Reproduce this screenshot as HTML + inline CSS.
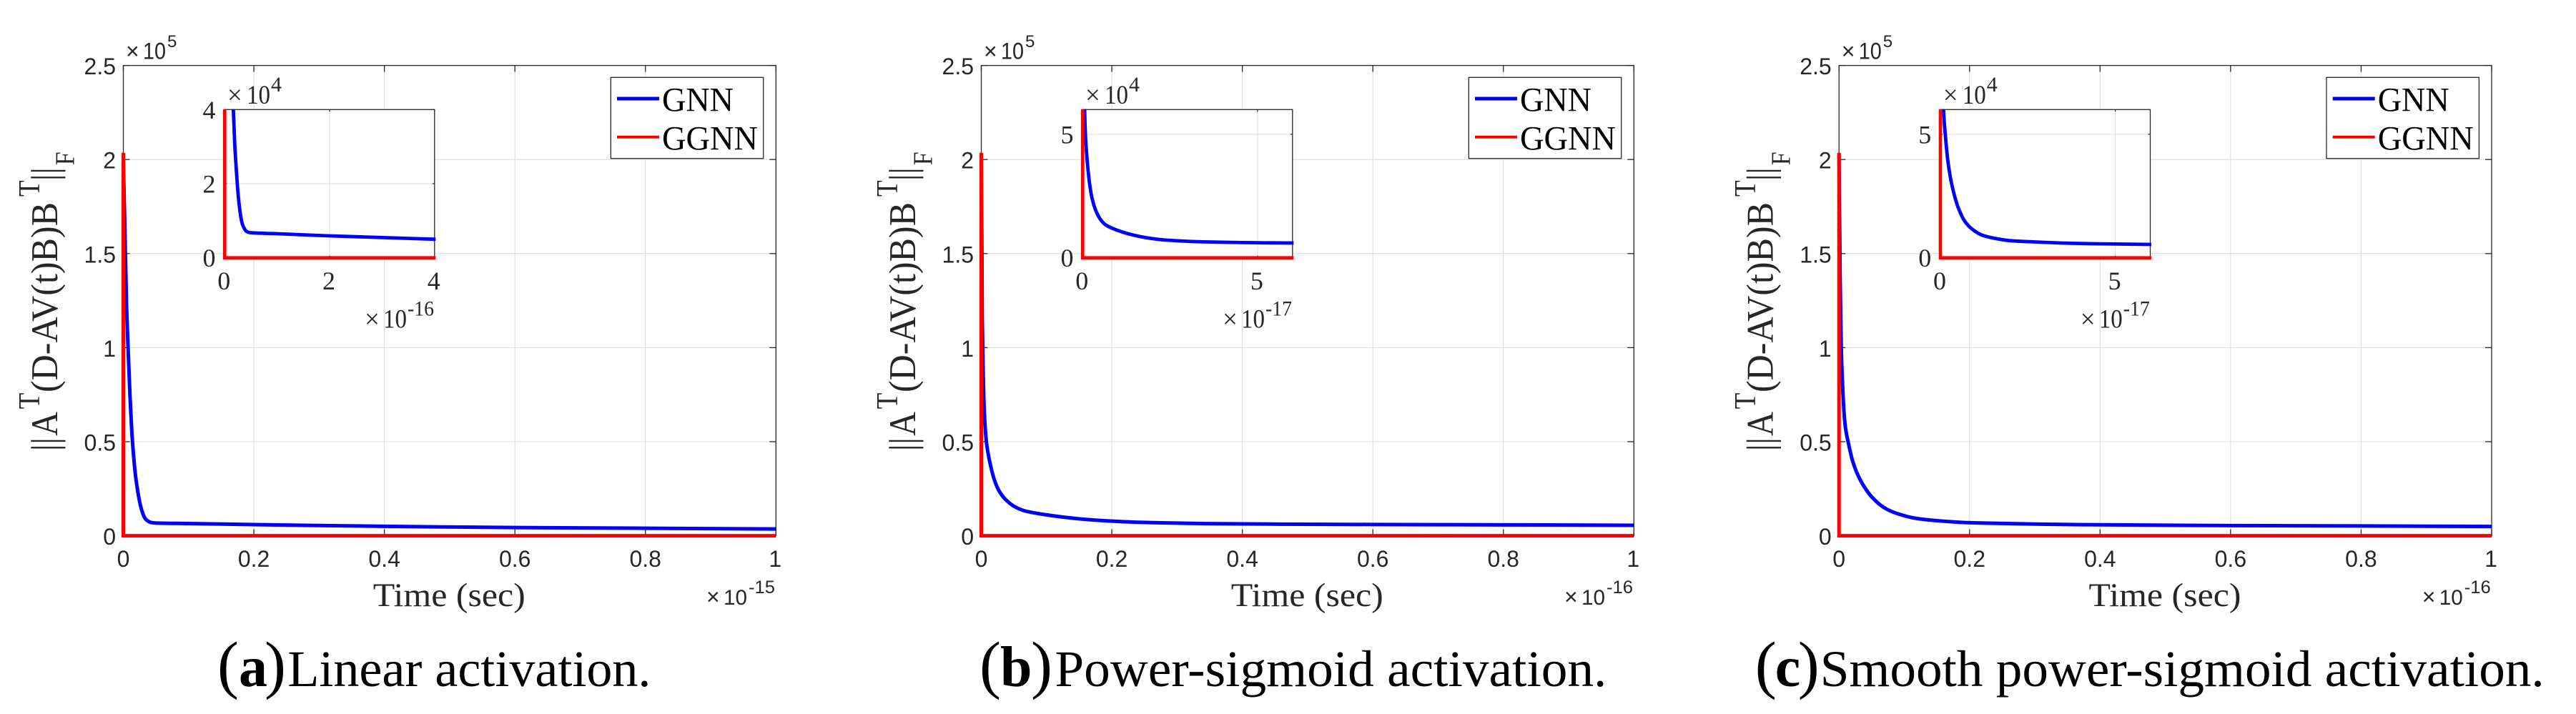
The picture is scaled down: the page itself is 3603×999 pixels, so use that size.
<!DOCTYPE html>
<html>
<head>
<meta charset="utf-8">
<title>GNN vs GGNN residual convergence</title>
<style>
html,body{margin:0;padding:0;background:#fff;}
svg{display:block;}
.sans{font-family:"Liberation Sans",sans-serif;fill:#262626;}
.serif{font-family:"Liberation Serif",serif;fill:#262626;}
.black{font-family:"Liberation Serif",serif;fill:#000;}
</style>
</head>
<body>
<svg xmlns="http://www.w3.org/2000/svg" width="3603" height="999" viewBox="0 0 3603 999">
<rect x="0" y="0" width="3603" height="999" fill="#fff"/>

<g id="panel-a" transform="translate(0,0)">
  <g id="main-a"></g>
  <g>
    <text class="sans" x="176" y="82.7" font-size="32">×</text>
    <text class="sans" x="200" y="82.7" font-size="32" textLength="32" lengthAdjust="spacingAndGlyphs">10</text>
    <text class="sans" x="234" y="66" font-size="24">5</text>
  </g>
  <g>
    <text class="sans" x="988" y="846" font-size="32">×</text>
    <text class="sans" x="1012" y="846" font-size="30" textLength="33" lengthAdjust="spacingAndGlyphs">10</text>
    <text class="sans" x="1047" y="830" font-size="25" textLength="37" lengthAdjust="spacingAndGlyphs">-15</text>
  </g>
  <text class="serif" x="521.8" y="848" font-size="47" textLength="213" lengthAdjust="spacingAndGlyphs">Time (sec)</text>
  <g transform="translate(80,628) rotate(-90) scale(1,1.13)">
    <text class="serif" x="-3" y="0" font-size="47">||</text>
    <text class="serif" x="18" y="0" font-size="47">A</text>
    <text class="serif" x="55.7" y="-22" font-size="37">T</text>
    <text class="serif" x="79" y="0" font-size="47" textLength="266" lengthAdjust="spacingAndGlyphs">(D-AV(t)B)B</text>
    <text class="serif" x="353" y="-22" font-size="37">T</text>
    <text class="serif" x="375" y="0" font-size="47">||</text>
    <text class="serif" x="396.7" y="21" font-size="34">F</text>
  </g>
  <g>
    <rect x="854.3" y="108.3" width="213.4" height="113.4" fill="#fff" stroke="#262626" stroke-width="1.3"/>
    <line x1="863" x2="922" y1="138" y2="138" stroke="#0000ff" stroke-width="5"/>
    <text class="black" x="926" y="155.7" font-size="48" textLength="100" lengthAdjust="spacingAndGlyphs">GNN</text>
    <line x1="863" x2="922" y1="191.7" y2="191.7" stroke="#ff0000" stroke-width="4"/>
    <text class="black" x="926" y="209.3" font-size="48" textLength="134" lengthAdjust="spacingAndGlyphs">GGNN</text>
  </g>
  <g id="inset-a"></g>
  <g>
    <text class="serif" x="318" y="145" font-size="37">×</text>
    <text class="serif" x="345" y="145" font-size="37" textLength="33" lengthAdjust="spacingAndGlyphs">10</text>
    <text class="serif" x="379" y="128" font-size="30">4</text>
  </g>
  <g>
    <text class="serif" x="510" y="458.3" font-size="37">×</text>
    <text class="serif" x="536" y="458.3" font-size="37" textLength="33" lengthAdjust="spacingAndGlyphs">10</text>
    <text class="serif" x="570" y="441.7" font-size="30" textLength="37" lengthAdjust="spacingAndGlyphs">-16</text>
  </g>
  <g>
    <text class="black" x="304" y="960" font-size="90">(</text>
    <text class="black" x="334" y="960" font-size="80" font-weight="bold">a</text>
    <text class="black" x="370" y="960" font-size="90">)</text>
    <text class="black" x="402.4" y="960" font-size="72" textLength="508" lengthAdjust="spacingAndGlyphs">Linear activation.</text>
  </g>
</g>

<g id="panel-b" transform="translate(1200,0)">
  <g id="main-b"></g>
  <g>
    <text class="sans" x="176" y="82.7" font-size="32">×</text>
    <text class="sans" x="200" y="82.7" font-size="32" textLength="32" lengthAdjust="spacingAndGlyphs">10</text>
    <text class="sans" x="234" y="66" font-size="24">5</text>
  </g>
  <g>
    <text class="sans" x="988" y="846" font-size="32">×</text>
    <text class="sans" x="1012" y="846" font-size="30" textLength="33" lengthAdjust="spacingAndGlyphs">10</text>
    <text class="sans" x="1047" y="830" font-size="25" textLength="37" lengthAdjust="spacingAndGlyphs">-16</text>
  </g>
  <text class="serif" x="521.8" y="848" font-size="47" textLength="213" lengthAdjust="spacingAndGlyphs">Time (sec)</text>
  <g transform="translate(80,628) rotate(-90) scale(1,1.13)">
    <text class="serif" x="-3" y="0" font-size="47">||</text>
    <text class="serif" x="18" y="0" font-size="47">A</text>
    <text class="serif" x="55.7" y="-22" font-size="37">T</text>
    <text class="serif" x="79" y="0" font-size="47" textLength="266" lengthAdjust="spacingAndGlyphs">(D-AV(t)B)B</text>
    <text class="serif" x="353" y="-22" font-size="37">T</text>
    <text class="serif" x="375" y="0" font-size="47">||</text>
    <text class="serif" x="396.7" y="21" font-size="34">F</text>
  </g>
  <g>
    <rect x="854.3" y="108.3" width="213.4" height="113.4" fill="#fff" stroke="#262626" stroke-width="1.3"/>
    <line x1="863" x2="922" y1="138" y2="138" stroke="#0000ff" stroke-width="5"/>
    <text class="black" x="926" y="155.7" font-size="48" textLength="100" lengthAdjust="spacingAndGlyphs">GNN</text>
    <line x1="863" x2="922" y1="191.7" y2="191.7" stroke="#ff0000" stroke-width="4"/>
    <text class="black" x="926" y="209.3" font-size="48" textLength="134" lengthAdjust="spacingAndGlyphs">GGNN</text>
  </g>
  <g id="inset-b"></g>
  <g>
    <text class="serif" x="318" y="145" font-size="37">×</text>
    <text class="serif" x="345" y="145" font-size="37" textLength="33" lengthAdjust="spacingAndGlyphs">10</text>
    <text class="serif" x="379" y="128" font-size="30">4</text>
  </g>
  <g>
    <text class="serif" x="510" y="458.3" font-size="37">×</text>
    <text class="serif" x="536" y="458.3" font-size="37" textLength="33" lengthAdjust="spacingAndGlyphs">10</text>
    <text class="serif" x="570" y="441.7" font-size="30" textLength="37" lengthAdjust="spacingAndGlyphs">-17</text>
  </g>
  <g>
    <text class="black" x="170" y="960" font-size="90">(</text>
    <text class="black" x="199" y="960" font-size="80" font-weight="bold">b</text>
    <text class="black" x="242" y="960" font-size="90">)</text>
    <text class="black" x="275.4" y="960" font-size="72" textLength="772" lengthAdjust="spacingAndGlyphs">Power-sigmoid activation.</text>
  </g>
</g>

<g id="panel-c" transform="translate(2399.7,0)">
  <g id="main-c"></g>
  <g>
    <text class="sans" x="176" y="82.7" font-size="32">×</text>
    <text class="sans" x="200" y="82.7" font-size="32" textLength="32" lengthAdjust="spacingAndGlyphs">10</text>
    <text class="sans" x="234" y="66" font-size="24">5</text>
  </g>
  <g>
    <text class="sans" x="988" y="846" font-size="32">×</text>
    <text class="sans" x="1012" y="846" font-size="30" textLength="33" lengthAdjust="spacingAndGlyphs">10</text>
    <text class="sans" x="1047" y="830" font-size="25" textLength="37" lengthAdjust="spacingAndGlyphs">-16</text>
  </g>
  <text class="serif" x="521.8" y="848" font-size="47" textLength="213" lengthAdjust="spacingAndGlyphs">Time (sec)</text>
  <g transform="translate(80,628) rotate(-90) scale(1,1.13)">
    <text class="serif" x="-3" y="0" font-size="47">||</text>
    <text class="serif" x="18" y="0" font-size="47">A</text>
    <text class="serif" x="55.7" y="-22" font-size="37">T</text>
    <text class="serif" x="79" y="0" font-size="47" textLength="266" lengthAdjust="spacingAndGlyphs">(D-AV(t)B)B</text>
    <text class="serif" x="353" y="-22" font-size="37">T</text>
    <text class="serif" x="375" y="0" font-size="47">||</text>
    <text class="serif" x="396.7" y="21" font-size="34">F</text>
  </g>
  <g>
    <rect x="854.3" y="108.3" width="213.4" height="113.4" fill="#fff" stroke="#262626" stroke-width="1.3"/>
    <line x1="863" x2="922" y1="138" y2="138" stroke="#0000ff" stroke-width="5"/>
    <text class="black" x="926" y="155.7" font-size="48" textLength="100" lengthAdjust="spacingAndGlyphs">GNN</text>
    <line x1="863" x2="922" y1="191.7" y2="191.7" stroke="#ff0000" stroke-width="4"/>
    <text class="black" x="926" y="209.3" font-size="48" textLength="134" lengthAdjust="spacingAndGlyphs">GGNN</text>
  </g>
  <g id="inset-c"></g>
  <g>
    <text class="serif" x="318" y="145" font-size="37">×</text>
    <text class="serif" x="345" y="145" font-size="37" textLength="33" lengthAdjust="spacingAndGlyphs">10</text>
    <text class="serif" x="379" y="128" font-size="30">4</text>
  </g>
  <g>
    <text class="serif" x="510" y="458.3" font-size="37">×</text>
    <text class="serif" x="536" y="458.3" font-size="37" textLength="33" lengthAdjust="spacingAndGlyphs">10</text>
    <text class="serif" x="570" y="441.7" font-size="30" textLength="37" lengthAdjust="spacingAndGlyphs">-17</text>
  </g>
  <g>
    <text class="black" x="55" y="960" font-size="90">(</text>
    <text class="black" x="83" y="960" font-size="80" font-weight="bold">c</text>
    <text class="black" x="115" y="960" font-size="90">)</text>
    <text class="black" x="146" y="960" font-size="72" textLength="1013" lengthAdjust="spacingAndGlyphs">Smooth power-sigmoid activation.</text>
  </g>
</g>
</svg>

<script>
// Main axis ticks (time in units of the printed exponent, residual in units of 1e5)
const mainXTicks = [0, 0.2, 0.4, 0.6, 0.8, 1];
const mainXTickLabels = ["0", "0.2", "0.4", "0.6", "0.8", "1"];
const mainYTicks = [0, 0.5, 1, 1.5, 2, 2.5];
const mainYTickLabels = ["0", "0.5", "1", "1.5", "2", "2.5"];

// Inset ticks for each panel (inset units are a tenth of the main units)
const insetXTicksA = [0, 2, 4];
const insetYTicksA = [0, 2, 4];
const insetXTicksB = [0, 5];
const insetYTicksB = [0, 5];
const insetXTicksC = [0, 5];
const insetYTicksC = [0, 5];
const insetLimitA = [4, 4];
const insetLimitB = [6, 6];
const insetLimitC = [6, 6];

// GNN series
const gnnTimeA = [0, 0.0006, 0.002, 0.0049, 0.0067, 0.0102, 0.0129, 0.0156, 0.019, 0.0215, 0.0239, 0.0263, 0.0287, 0.031, 0.0336, 0.037, 0.0409, 0.045, 0.0507, 0.1, 0.2, 0.4, 0.6, 0.8, 1];
const gnnValuesA = [2.03, 1.89, 1.695, 1.225, 1.05, 0.743, 0.56, 0.43, 0.31, 0.25, 0.2, 0.16, 0.13, 0.108, 0.091, 0.08, 0.072, 0.069, 0.0675, 0.065, 0.0592, 0.0502, 0.0435, 0.04, 0.036];
const gnnTimeB = [0, 0.0015, 0.003, 0.0045, 0.0065, 0.0087, 0.0139, 0.0197, 0.027, 0.0379, 0.0525, 0.067, 0.0962, 0.14, 0.1837, 0.242, 0.344, 0.4534, 0.6, 0.8, 1];
const gnnValuesB = [2.03, 1.156, 0.85, 0.67, 0.55, 0.475, 0.378, 0.301, 0.24, 0.19, 0.152, 0.132, 0.113, 0.0936, 0.081, 0.0714, 0.0646, 0.0617, 0.0598, 0.058, 0.0557];
const gnnTimeC = [0, 0.0016, 0.003, 0.0038, 0.006, 0.0082, 0.0105, 0.0139, 0.0206, 0.0286, 0.0378, 0.0505, 0.0688, 0.089, 0.118, 0.1545, 0.198, 0.264, 0.373, 0.6, 0.8, 1];
const gnnValuesC = [2.03, 1.4, 1.08, 0.95, 0.76, 0.63, 0.56, 0.5, 0.4, 0.325, 0.265, 0.205, 0.15, 0.118, 0.0925, 0.079, 0.0695, 0.0646, 0.0588, 0.054, 0.052, 0.0495];

// GGNN series
const ggnnTimeA = [0, 0, 1];
const ggnnValuesA = [2.036, 0, 0];
const ggnnTimeB = [0, 0, 1];
const ggnnValuesB = [2.036, 0, 0];
const ggnnTimeC = [0, 0, 1];
const ggnnValuesC = [2.036, 0, 0];

const INK = "#262626";
const GRID = "#e1e1e1";
const SVGNS = "http://www.w3.org/2000/svg";

function linear(d0, d1, r0, r1) {
  return function (v) { return r0 + (v - d0) * (r1 - r0) / (d1 - d0); };
}

function make(parent, tag, attrs) {
  const el = document.createElementNS(SVGNS, tag);
  for (const k in attrs) el.setAttribute(k, attrs[k]);
  parent.appendChild(el);
  return el;
}

function hLine(parent, x1, x2, y, color, width, name) {
  const el = make(parent, "line", { x1: x1, x2: x2, y1: y, y2: y, stroke: color, "stroke-width": width });
  
  
  return el;
}

function vLine(parent, x, y1, y2, color, width, name) {
  const el = make(parent, "line", { x1: x, x2: x, y1: y1, y2: y2, stroke: color, "stroke-width": width });
  
  
  return el;
}

// Straight segments: used for the right-angled GGNN trace
function drawSeries(parent, xs, ys, sx, sy, color, width, name) {
  const pts = xs.map(function (t, i) { return sx(t).toFixed(2) + "," + sy(ys[i]).toFixed(2); }).join(" ");
  const el = make(parent, "polyline", { points: pts, fill: "none", stroke: color, "stroke-width": width, "stroke-linejoin": "miter" });
  
  
  return el;
}

// Monotone cubic curve through the data points: used for the smooth GNN decay
function drawCurve(parent, xs, ys, sx, sy, color, width, name) {
  const px = xs.map(sx);
  const py = ys.map(sy);
  const n = px.length;
  const slope = [];
  for (let i = 0; i < n - 1; i++) slope.push((py[i + 1] - py[i]) / (px[i + 1] - px[i]));
  const tan = [slope[0]];
  for (let i = 1; i < n - 1; i++) {
    tan.push(slope[i - 1] * slope[i] <= 0 ? 0 : 2 * slope[i - 1] * slope[i] / (slope[i - 1] + slope[i]));
  }
  tan.push(slope[n - 2]);
  let d = "M" + px[0].toFixed(2) + " " + py[0].toFixed(2);
  for (let i = 0; i < n - 1; i++) {
    const h = (px[i + 1] - px[i]) / 3;
    d += "C" + (px[i] + h).toFixed(2) + " " + (py[i] + tan[i] * h).toFixed(2) + " " +
         (px[i + 1] - h).toFixed(2) + " " + (py[i + 1] - tan[i + 1] * h).toFixed(2) + " " +
         px[i + 1].toFixed(2) + " " + py[i + 1].toFixed(2);
  }
  const el = make(parent, "path", { d: d, fill: "none", stroke: color, "stroke-width": width, "stroke-linejoin": "round" });
  
  
  return el;
}

function label(parent, cls, x, y, size, anchor, str, name) {
  const el = make(parent, "text", { class: cls, x: x, y: y, "font-size": size, "text-anchor": anchor });
  el.textContent = str;
  
  
  return el;
}

function drawMain(id, gnnT, gnnV, ggnnT, ggnnV) {
  const g = document.getElementById(id);
  const L = 172.5, R = 1085.3, T = 91.6, B = 749.6;
  const sx = linear(0, 1, L, R);
  const sy = linear(0, 2.5, B, T);
  mainXTicks.forEach(function (v, i) {
    const x = sx(v);
    if (i > 0 && i < mainXTicks.length - 1) {
      vLine(g, x, T, B, GRID, 1.3, "x-gridline");
    }
    vLine(g, x, B - 9, B, INK, 1.3, "x-tick");
    vLine(g, x, T, T + 9, INK, 1.3, "x-tick-top");
    label(g, "sans", x - (i === mainXTicks.length - 1 ? 1 : 0), 793, 32, "middle", mainXTickLabels[i], "x-tick-label");
  });
  mainYTicks.forEach(function (v, i) {
    const y = sy(v);
    if (i > 0 && i < mainYTicks.length - 1) {
      hLine(g, L, R, y, GRID, 1.3, "y-gridline");
    }
    hLine(g, L, L + 9, y, INK, 1.3, "y-tick");
    hLine(g, R - 9, R, y, INK, 1.3, "y-tick-right");
    label(g, "sans", 162, y + 12.5, 32, "end", mainYTickLabels[i], "y-tick-label");
  });
  const box = make(g, "rect", { x: L, y: T, width: R - L, height: B - T, fill: "none", stroke: INK, "stroke-width": 1.3 });
  
  
  drawCurve(g, gnnT, gnnV, sx, sy, "#0000ff", 5, "gnn-line");
  drawSeries(g, ggnnT, ggnnV, sx, sy, "#ff0000", 5, "ggnn-line");
}

function drawInset(id, limit, xTicks, yTicks, gnnT, gnnV, ggnnT, ggnnV) {
  const g = document.getElementById(id);
  const L = 314.3, R = 607.8, T = 153.3, B = 360.7;
  const sx = linear(0, limit[0], L, R);
  const sy = linear(0, limit[1], B, T);
  const dataX = function (t) { return sx(t * 10); };
  const dataY = function (v) { return sy(v * 10); };
  const bg = make(g, "rect", { x: L, y: T, width: R - L, height: B - T, fill: "#fff" });
  
  
  xTicks.forEach(function (v) {
    const x = sx(v);
    if (v > 0 && v < limit[0]) {
      vLine(g, x, T, B, GRID, 1.2, "inset-x-gridline");
    }
    vLine(g, x, B - 3, B, INK, 1.2, "inset-x-tick");
    vLine(g, x, T, T + 3, INK, 1.2, "inset-x-tick-top");
    label(g, "serif", x - 1, 405, 36, "middle", String(v), "inset-x-tick-label");
  });
  yTicks.forEach(function (v) {
    const y = sy(v);
    if (v > 0 && v < limit[1]) {
      hLine(g, L, R, y, GRID, 1.2, "inset-y-gridline");
    }
    hLine(g, L, L + 3, y, INK, 1.2, "inset-y-tick");
    hLine(g, R - 3, R, y, INK, 1.2, "inset-y-tick-right");
    label(g, "serif", 301.5, y + 12.5, 36, "end", String(v), "inset-y-tick-label");
  });
  const box = make(g, "rect", { x: L, y: T, width: R - L, height: B - T, fill: "none", stroke: INK, "stroke-width": 1.3 });
  
  
  const clipId = id + "-clip";
  const clip = make(g, "clipPath", { id: clipId });
  make(clip, "rect", { x: L - 4, y: T - 0.5, width: R - L + 1.5 + 4, height: B - T + 4 });
  const clipped = make(g, "g", { "clip-path": "url(#" + clipId + ")" });
  
  
  drawCurve(clipped, gnnT, gnnV, dataX, dataY, "#0000ff", 4.8, "inset-gnn-line");
  drawSeries(clipped, ggnnT, ggnnV, dataX, dataY, "#ff0000", 4.6, "inset-ggnn-line");
}

drawMain("main-a", gnnTimeA, gnnValuesA, ggnnTimeA, ggnnValuesA);
drawMain("main-b", gnnTimeB, gnnValuesB, ggnnTimeB, ggnnValuesB);
drawMain("main-c", gnnTimeC, gnnValuesC, ggnnTimeC, ggnnValuesC);
drawInset("inset-a", insetLimitA, insetXTicksA, insetYTicksA, gnnTimeA, gnnValuesA, ggnnTimeA, ggnnValuesA);
drawInset("inset-b", insetLimitB, insetXTicksB, insetYTicksB, gnnTimeB, gnnValuesB, ggnnTimeB, ggnnValuesB);
drawInset("inset-c", insetLimitC, insetXTicksC, insetYTicksC, gnnTimeC, gnnValuesC, ggnnTimeC, ggnnValuesC);
</script>
</body>
</html>
